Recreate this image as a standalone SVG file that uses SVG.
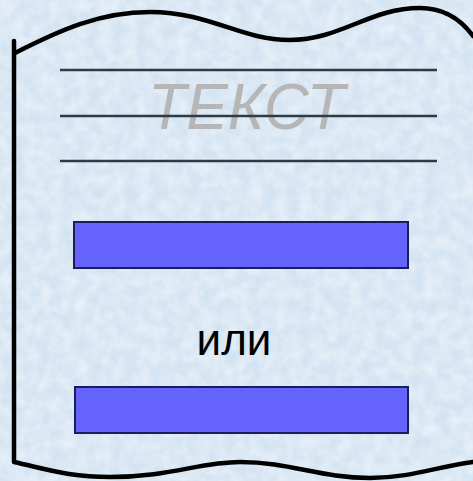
<svg xmlns="http://www.w3.org/2000/svg" width="473" height="481" viewBox="0 0 473 481">
  <style>
    .outline { fill: none; stroke: #000; stroke-width: 4.5; stroke-linejoin: round; stroke-linecap: round; }
    .rule { stroke: #2e3a44; stroke-width: 2.5; }
    .bar { fill: #6464fc; stroke: #1c1c5c; stroke-width: 2; }
    .ghost { font-family: "Liberation Sans", Arial, sans-serif; font-style: italic; font-size: 64px; fill: #b6b6b6; }
    .label { font-family: "Liberation Sans", Arial, sans-serif; font-size: 44px; fill: #000; }
  </style>
  <defs>
    <filter id="paper" x="0" y="0" width="100%" height="100%">
      <feTurbulence type="fractalNoise" baseFrequency="0.08" numOctaves="3" seed="4" result="n"/>
      <feColorMatrix type="matrix" values="0 0 0 0 1  0 0 0 0 1  0 0 0 0 1  0 0 0 -1.4 1.05"/>
    </filter>
  </defs>
  <rect width="473" height="481" fill="#d3e3f2"/>
  <rect width="473" height="481" filter="url(#paper)" opacity="0.55"/>

  <g id="document">
    <path class="outline" d="M14,41 L14,462 C50,470 70,477 110,477 C170,477 200,462 240,462 C290,462 320,478 370,478 C410,478 440,466 473,462"/>
    <path class="outline" d="M15,53 C60,30 100,12 150,12 C210,12 240,40 290,40 C340,40 370,8 420,8 C450,8 465,25 473,36"/>
  </g>

  <g id="text-lines">
    <line class="rule" x1="60" y1="70" x2="437" y2="70"/>
    <text class="ghost" x="148" y="129" textLength="197" lengthAdjust="spacingAndGlyphs">ТЕКСТ</text>
    <line class="rule" x1="60" y1="116" x2="437" y2="116"/>
    <line class="rule" x1="60" y1="161" x2="437" y2="161"/>
  </g>

  <g id="bar-top">
    <rect class="bar" x="74" y="222" width="334" height="46"/>
  </g>

  <g id="or-label">
    <text class="label" x="234" y="355" text-anchor="middle">или</text>
  </g>

  <g id="bar-bottom">
    <rect class="bar" x="75" y="387" width="333" height="46"/>
  </g>

  <g id="connectors"/>
</svg>
